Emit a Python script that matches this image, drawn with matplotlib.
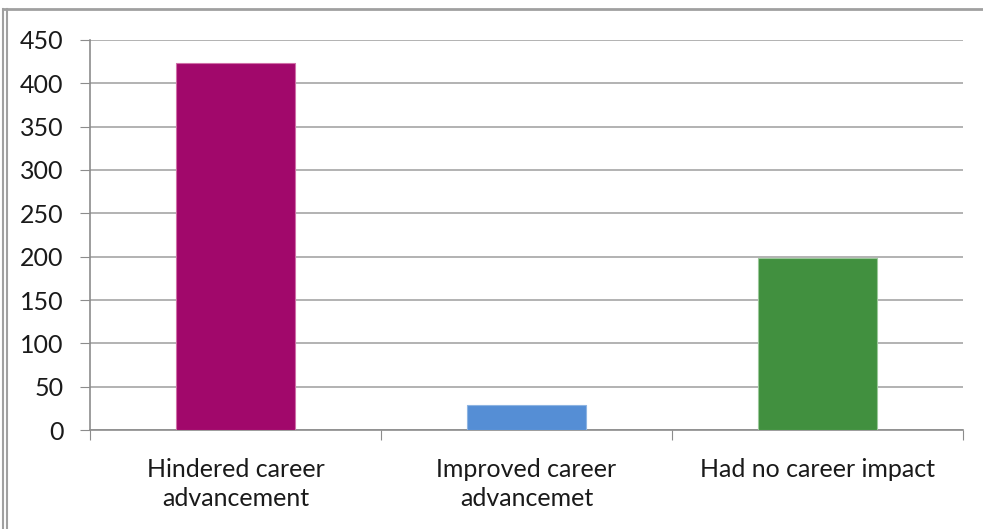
import matplotlib.pyplot as plt
from matplotlib.lines import Line2D

categories = ["Hindered career\nadvancement", "Improved career\nadvancemet", "Had no career impact"]
counts = [424, 29, 198]
colors = ["#A1086B", "#558ED5", "#41903F"]
edge_colors = ["#D070A8", "#8DB4E2", "#9BC89A"]
yticks = [0, 50, 100, 150, 200, 250, 300, 350, 400, 450]

plt.rcParams["font.family"] = ["Lato", "DejaVu Sans"]

fig = plt.figure(figsize=(9.83, 5.29), dpi=100)
ax = fig.add_axes([90 / 983, 1 - 430 / 529, 873 / 983, 390 / 529])

x = list(range(len(categories)))
ax.bar(x, counts, width=0.41, color=colors, edgecolor=edge_colors, linewidth=0.8, zorder=3)

ax.set_xlim(-0.5, len(categories) - 0.5)
ax.set_ylim(0, 450)
ax.set_yticks(yticks)
ax.set_yticklabels([str(v) for v in yticks], fontsize=18, color="#1A1A1A")
ax.yaxis.grid(True, color="#A6A6A6", linewidth=1.2, zorder=0)

# category labels sit between the boundary ticks
ax.set_xticks([i - 0.5 for i in range(len(categories) + 1)])
ax.set_xticklabels([])
ax.set_xticks(x, minor=True)
ax.set_xticklabels(categories, minor=True, fontsize=18, color="#1A1A1A", linespacing=1.35)
ax.tick_params(axis="x", which="minor", length=0, pad=20)
ax.tick_params(axis="x", which="major", length=7, color="#8C8C8C", direction="out")
ax.tick_params(axis="y", length=7, color="#8C8C8C", pad=12)

for side in ["top", "right"]:
    ax.spines[side].set_visible(False)
for side in ["left", "bottom"]:
    ax.spines[side].set_color("#8C8C8C")
    ax.spines[side].set_linewidth(1.2)

# outer frame lines
fig.add_artist(Line2D([3 / 983, 1], [1 - 9 / 529, 1 - 9 / 529], color="#A0A0A0", linewidth=2))
fig.add_artist(Line2D([3 / 983, 3 / 983], [0, 1 - 9 / 529], color="#A0A0A0", linewidth=1.5))
fig.add_artist(Line2D([7 / 983, 7 / 983], [0, 1 - 9 / 529], color="#A0A0A0", linewidth=1.5))

fig.savefig("out.png", dpi=100)
